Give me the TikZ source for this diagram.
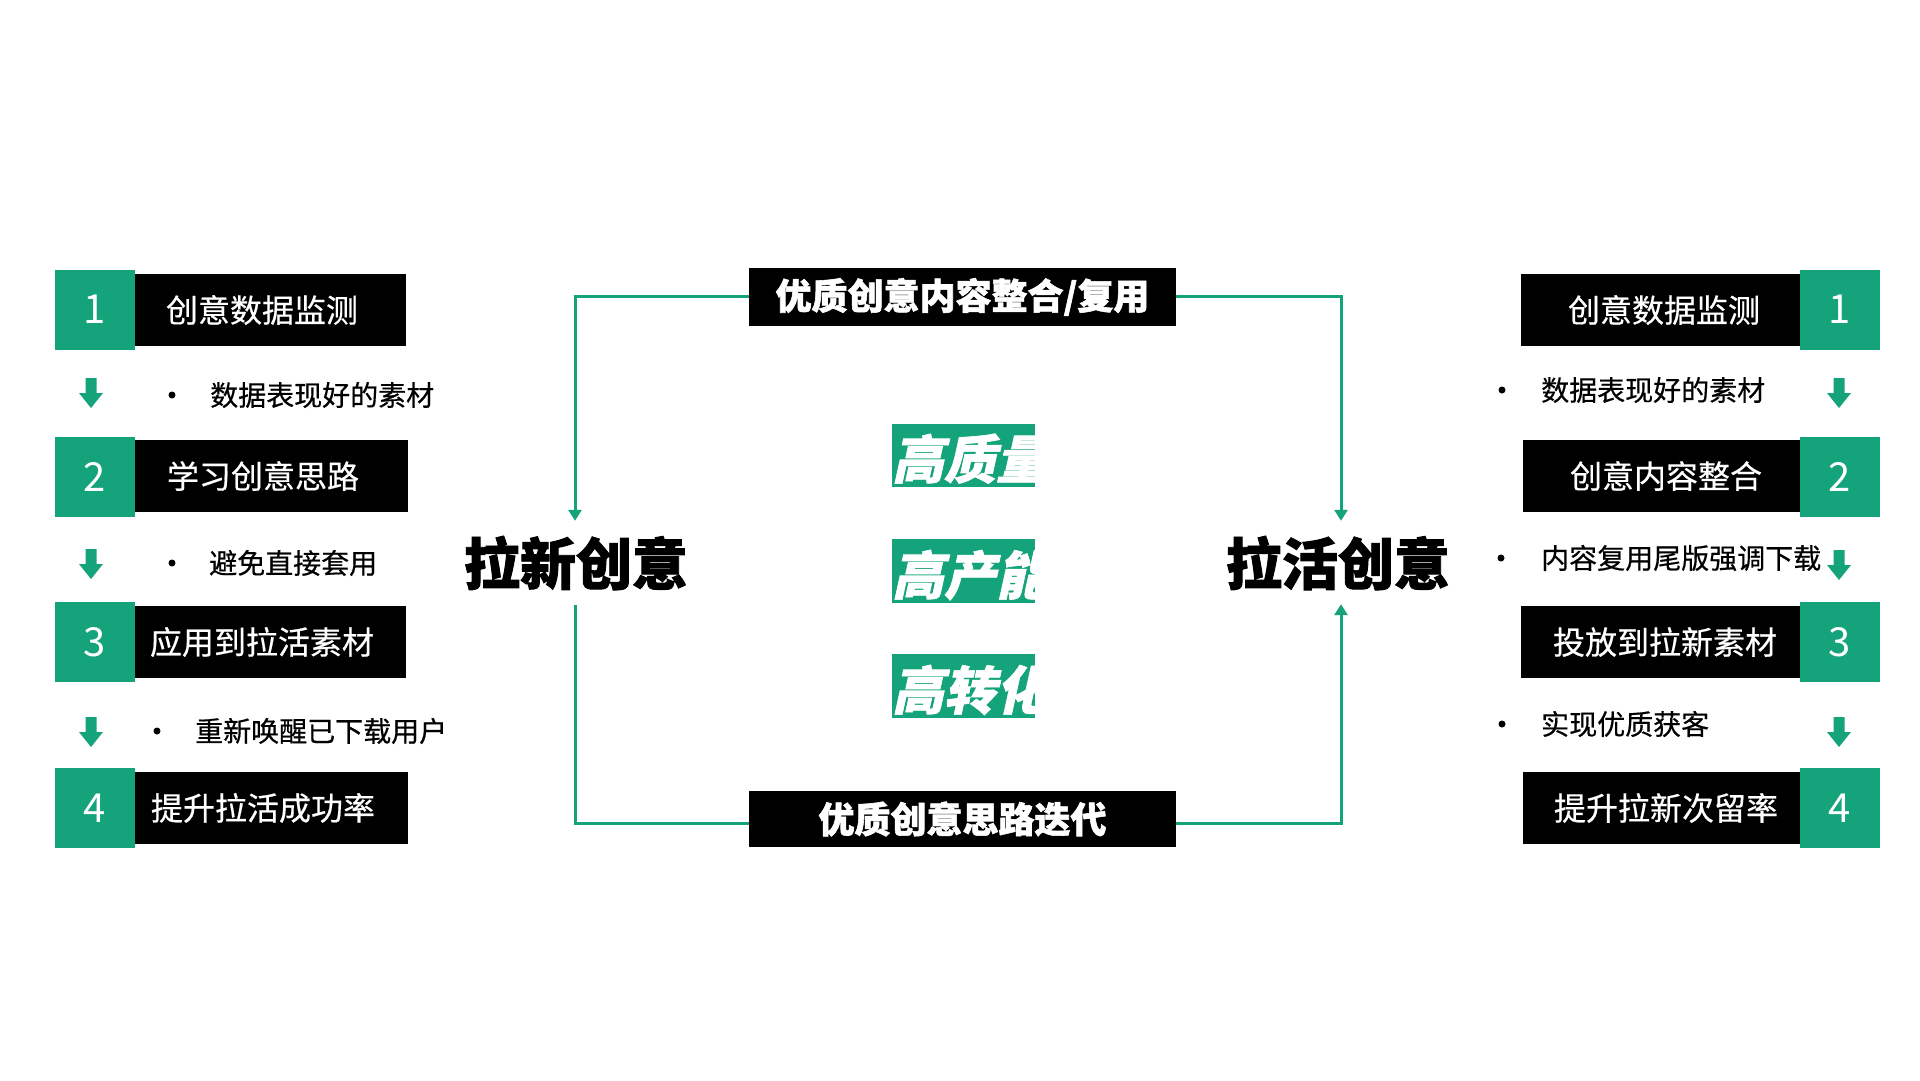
\documentclass[tikz,border=0pt]{standalone}
\usepackage{fontspec}
\setmainfont{Noto Sans CJK SC}
\newfontfamily\medfont[FakeBold=0.5]{Noto Sans CJK SC}
\newfontfamily\heavyfont[FakeBold=1.6]{Noto Sans CJK SC}
\newfontfamily\hqfont[FakeSlant=0.22, FakeBold=1.2]{Noto Sans CJK SC}
\usetikzlibrary{arrows.meta}
\definecolor{gr}{RGB}{20,163,122}
\tikzset{
  numbox/.style={fill=gr, text=white, minimum width=80pt, minimum height=80pt, inner sep=0pt, font=\fontsize{40}{44}\selectfont},
  blkbox/.style={fill=black, inner sep=0pt, minimum height=72pt},
  boxtxt/.style={text=white, inner sep=0pt, font=\fontsize{32}{36}\selectfont\medfont},
  itemtxt/.style={anchor=west, inner sep=0pt, font=\fontsize{28}{32}\selectfont\medfont},
  bdot/.style={circle, fill=black, inner sep=0pt, minimum size=7pt},
  flow/.style={draw=gr, line width=3pt},
  flowtip/.style={-{Triangle[length=11pt,width=13pt]}},
  bigtitle/.style={inner sep=0pt, minimum height=84pt, font=\fontsize{56}{60}\selectfont\heavyfont\bfseries},
  centerbox/.style={fill=black, text=white, inner sep=0pt, minimum width=427pt, font=\fontsize{36}{40}\selectfont\heavyfont\bfseries},
  qbox/.style={fill=gr, inner sep=0pt, minimum width=143pt, minimum height=64pt},
  qtxt/.style={anchor=base west, inner sep=0pt, text=white, font=\fontsize{52}{56}\selectfont\hqfont\bfseries},
  dnarrow/.pic={\fill[gr] (-5.5,-15) -- (5.5,-15) -- (5.5,0) -- (12,0) -- (0,15) -- (-12,0) -- (-5.5,0) -- cycle;}
}
\begin{document}
\begin{tikzpicture}[x=1pt,y=-1pt]
\useasboundingbox (0,0) rectangle (1920,1080);
\fill[white] (0,0) rectangle (1920,1080);

% ---------- left column ----------
\node[blkbox, minimum width=271pt] (lb1) at (270.5,310) {};
\node[blkbox, minimum width=273pt] (lb2) at (271.5,476) {};
\node[blkbox, minimum width=271pt] (lb3) at (270.5,642) {};
\node[blkbox, minimum width=273pt] (lb4) at (271.5,808) {};
\node[numbox] (ln1) at (95,309.5) {1};
\node[numbox] (ln2) at (95,476.5) {2};
\node[numbox] (ln3) at (95,642) {3};
\node[numbox] (ln4) at (95,808) {4};
\node[boxtxt] (lt1) at (262,310) {创意数据监测};
\node[boxtxt] (lt2) at (263,476) {学习创意思路};
\node[boxtxt] (lt3) at (262,642) {应用到拉活素材};
\node[boxtxt] (lt4) at (263,808) {提升拉活成功率};
\pic (la1) at (91,393) {dnarrow};
\pic (la2) at (91,564) {dnarrow};
\pic (la3) at (91,732) {dnarrow};
\node[bdot] (ld1) at (172,395) {};
\node[bdot] (ld2) at (172,563) {};
\node[bdot] (ld3) at (157,731) {};
\node[itemtxt] (li1) at (210,395) {数据表现好的素材};
\node[itemtxt] (li2) at (209,563) {避免直接套用};
\node[itemtxt] (li3) at (195,731) {重新唤醒已下载用户};

% ---------- right column ----------
\node[blkbox, minimum width=279pt] (rb1) at (1660.5,310) {};
\node[blkbox, minimum width=277pt] (rb2) at (1661.5,476) {};
\node[blkbox, minimum width=279pt] (rb3) at (1660.5,642) {};
\node[blkbox, minimum width=277pt] (rb4) at (1661.5,808) {};
\node[numbox] (rn1) at (1840,309.5) {1};
\node[numbox] (rn2) at (1840,476.5) {2};
\node[numbox] (rn3) at (1840,642) {3};
\node[numbox] (rn4) at (1840,808) {4};
\node[boxtxt] (rt1) at (1664,310) {创意数据监测};
\node[boxtxt] (rt2) at (1666,476) {创意内容整合};
\node[boxtxt] (rt3) at (1665,642) {投放到拉新素材};
\node[boxtxt] (rt4) at (1666,808) {提升拉新次留率};
\pic (ra1) at (1839,393) {dnarrow};
\pic (ra2) at (1839,565) {dnarrow};
\pic (ra3) at (1839,732) {dnarrow};
\node[bdot] (rd1) at (1502,390) {};
\node[bdot] (rd2) at (1501,558) {};
\node[bdot] (rd3) at (1502,724) {};
\node[itemtxt] (ri1) at (1541,390) {数据表现好的素材};
\node[itemtxt] (ri2) at (1541,558) {内容复用尾版强调下载};
\node[itemtxt] (ri3) at (1541,724) {实现优质获客};

% ---------- centre ----------
\node[centerbox, minimum height=58pt] (topbox) at (962.5,297) {优质创意内容整合/复用};
\node[centerbox, minimum height=56pt] (botbox) at (962.5,819) {优质创意思路迭代};
\node[bigtitle] (lx) at (576,563) {拉新创意};
\node[bigtitle] (rx) at (1338,563) {拉活创意};
\coordinate (tl) at (575,296);
\coordinate (tr) at (1341,296);
\coordinate (bl) at (575,823);
\coordinate (br) at (1341,823);
\draw[flow, flowtip] (topbox.west |- tl) -- (tl) -- (tl |- lx.north);
\draw[flow, flowtip] (topbox.east |- tr) -- (tr) -- (tr |- lx.north);
\draw[flow] (tl |- lx.south) -- (bl) -- (botbox.west |- bl);
\draw[flow, flowtip] (botbox.east |- br) -- (br) -- ([yshift=1pt]br |- rx.south);

\node[qbox, minimum height=63pt] (q1) at (963.5,455.5) {};
\node[qbox] (q2) at (963.5,571) {};
\node[qbox] (q3) at (963.5,686) {};
\begin{scope}
\clip (q1.south west) rectangle (q1.north east);
\node[qtxt] (q1t) at ([shift={(0,-8.5)}]q1.south west) {高质量};
\end{scope}
\begin{scope}
\clip (q2.south west) rectangle (q2.north east);
\node[qtxt] (q2t) at ([shift={(0,-8.5)}]q2.south west) {高产能};
\end{scope}
\begin{scope}
\clip (q3.south west) rectangle (q3.north east);
\node[qtxt] (q3t) at ([shift={(0,-8.5)}]q3.south west) {高转化};
\end{scope}
\end{tikzpicture}
\end{document}
